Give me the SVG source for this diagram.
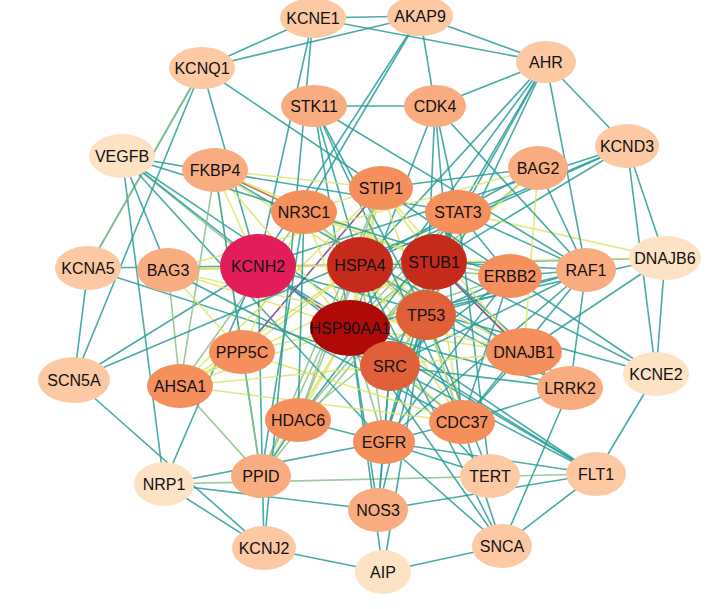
<svg xmlns="http://www.w3.org/2000/svg" width="706" height="609" viewBox="0 0 706 609">
<style>
line{stroke-width:1.6;opacity:.85}
.t{stroke:#2a9e98}.y{stroke:#dfe56a}.g{stroke:#8cc08a}.p{stroke:#7a3c8a}.b{stroke:#b07050}
text{font-family:"Liberation Sans",Arial,sans-serif;font-size:16px;text-anchor:middle;dominant-baseline:central;fill:#111}
.c1{fill:#fde2c4}.c2{fill:#fcc9a2}.c3{fill:#f9ac80}.c4{fill:#f58f5c}.c5{fill:#e0603a}.c6{fill:#c62a1a}.c7{fill:#b00a08}.c8{fill:#e21d5a}
</style>
<rect width="706" height="609" fill="#fff"/>
<g id="connectors">
<line class="t" x1="313" y1="18" x2="420" y2="16"/><line class="t" x1="313" y1="18" x2="202" y2="68"/><line class="t" x1="202" y1="68" x2="88" y2="268"/><line class="t" x1="202" y1="68" x2="74" y2="380"/><line class="t" x1="88" y1="268" x2="74" y2="380"/><line class="t" x1="264" y1="548" x2="74" y2="380"/><line class="t" x1="122" y1="156" x2="164" y2="484"/><line class="t" x1="122" y1="156" x2="596" y2="474"/><line class="g" x1="164" y1="484" x2="596" y2="474"/><line class="t" x1="627" y1="146" x2="656" y2="374"/><line class="t" x1="420" y1="16" x2="202" y2="68"/><line class="t" x1="420" y1="16" x2="435" y2="106"/><line class="t" x1="420" y1="16" x2="546" y2="62"/><line class="t" x1="313" y1="18" x2="546" y2="62"/><line class="g" x1="202" y1="68" x2="88" y2="268"/><line class="t" x1="546" y1="62" x2="627" y2="146"/><line class="t" x1="665" y1="258" x2="656" y2="374"/><line class="t" x1="627" y1="146" x2="665" y2="258"/><line class="t" x1="596" y1="474" x2="656" y2="374"/><line class="t" x1="502" y1="546" x2="596" y2="474"/><line class="t" x1="383" y1="572" x2="264" y2="548"/><line class="t" x1="164" y1="484" x2="264" y2="548"/><line class="t" x1="502" y1="546" x2="383" y2="572"/>
<!-- KCNH2 -->
<line class="t" x1="258" y1="266" x2="313" y2="18"/><line class="t" x1="258" y1="266" x2="202" y2="68"/><line class="t" x1="258" y1="266" x2="88" y2="268"/><line class="t" x1="258" y1="266" x2="74" y2="380"/><line class="t" x1="258" y1="266" x2="264" y2="548"/><line class="t" x1="258" y1="266" x2="656" y2="374"/><line class="t" x1="258" y1="266" x2="627" y2="146"/><line class="t" x1="258" y1="266" x2="420" y2="16"/><line class="g" x1="258" y1="266" x2="122" y2="156"/><line class="t" x1="258" y1="266" x2="164" y2="484"/><line class="t" x1="258" y1="266" x2="596" y2="474"/><line class="p" x1="258" y1="266" x2="350" y2="328"/><line class="p" x1="258" y1="266" x2="360" y2="265"/><line class="y" x1="258" y1="266" x2="168" y2="270"/><line class="y" x1="258" y1="266" x2="215" y2="170"/><line class="p" x1="242" y1="352" x2="381" y2="188"/>
<!-- HSP90AA1 -->
<line class="y" x1="350" y1="328" x2="360" y2="265"/><line class="y" x1="350" y1="328" x2="434" y2="262"/><line class="y" x1="350" y1="328" x2="426" y2="315"/><line class="y" x1="350" y1="328" x2="390" y2="366"/><line class="g" x1="350" y1="328" x2="384" y2="442"/><line class="y" x1="350" y1="328" x2="462" y2="422"/><line class="y" x1="350" y1="328" x2="381" y2="188"/><line class="g" x1="350" y1="328" x2="458" y2="212"/><line class="y" x1="350" y1="328" x2="304" y2="212"/><line class="y" x1="350" y1="328" x2="215" y2="170"/><line class="y" x1="350" y1="328" x2="168" y2="270"/><line class="y" x1="350" y1="328" x2="242" y2="352"/><line class="y" x1="350" y1="328" x2="180" y2="386"/><line class="y" x1="350" y1="328" x2="298" y2="420"/><line class="y" x1="350" y1="328" x2="261" y2="476"/><line class="y" x1="350" y1="328" x2="524" y2="352"/><line class="g" x1="350" y1="328" x2="510" y2="276"/><line class="t" x1="350" y1="328" x2="586" y2="270"/><line class="g" x1="350" y1="328" x2="538" y2="168"/><line class="t" x1="350" y1="328" x2="435" y2="106"/><line class="t" x1="350" y1="328" x2="314" y2="106"/><line class="t" x1="350" y1="328" x2="570" y2="388"/><line class="t" x1="350" y1="328" x2="490" y2="476"/><line class="t" x1="350" y1="328" x2="378" y2="510"/><line class="t" x1="350" y1="328" x2="383" y2="572"/><line class="t" x1="350" y1="328" x2="596" y2="474"/><line class="t" x1="350" y1="328" x2="502" y2="546"/><line class="t" x1="350" y1="328" x2="546" y2="62"/><line class="t" x1="350" y1="328" x2="665" y2="258"/>
<!-- HSPA4 -->
<line class="y" x1="360" y1="265" x2="434" y2="262"/><line class="y" x1="360" y1="265" x2="426" y2="315"/><line class="g" x1="360" y1="265" x2="390" y2="366"/><line class="g" x1="360" y1="265" x2="384" y2="442"/><line class="y" x1="360" y1="265" x2="462" y2="422"/><line class="y" x1="360" y1="265" x2="381" y2="188"/><line class="g" x1="360" y1="265" x2="458" y2="212"/><line class="y" x1="360" y1="265" x2="304" y2="212"/><line class="y" x1="360" y1="265" x2="215" y2="170"/><line class="y" x1="360" y1="265" x2="168" y2="270"/><line class="y" x1="360" y1="265" x2="242" y2="352"/><line class="y" x1="360" y1="265" x2="180" y2="386"/><line class="g" x1="360" y1="265" x2="298" y2="420"/><line class="g" x1="360" y1="265" x2="261" y2="476"/><line class="y" x1="360" y1="265" x2="524" y2="352"/><line class="g" x1="360" y1="265" x2="510" y2="276"/><line class="t" x1="360" y1="265" x2="538" y2="168"/><line class="t" x1="360" y1="265" x2="665" y2="258"/><line class="t" x1="360" y1="265" x2="570" y2="388"/><line class="t" x1="360" y1="265" x2="502" y2="546"/><line class="t" x1="360" y1="265" x2="627" y2="146"/><line class="t" x1="360" y1="265" x2="546" y2="62"/>
<!-- STUB1 -->
<line class="y" x1="434" y1="262" x2="426" y2="315"/><line class="g" x1="434" y1="262" x2="390" y2="366"/><line class="t" x1="434" y1="262" x2="384" y2="442"/><line class="y" x1="434" y1="262" x2="462" y2="422"/><line class="y" x1="434" y1="262" x2="381" y2="188"/><line class="g" x1="434" y1="262" x2="458" y2="212"/><line class="y" x1="434" y1="262" x2="304" y2="212"/><line class="y" x1="434" y1="262" x2="215" y2="170"/><line class="y" x1="434" y1="262" x2="168" y2="270"/><line class="y" x1="434" y1="262" x2="180" y2="386"/><line class="g" x1="434" y1="262" x2="298" y2="420"/><line class="g" x1="434" y1="262" x2="261" y2="476"/><line class="y" x1="434" y1="262" x2="524" y2="352"/><line class="g" x1="434" y1="262" x2="510" y2="276"/><line class="y" x1="434" y1="262" x2="538" y2="168"/><line class="t" x1="434" y1="262" x2="586" y2="270"/><line class="t" x1="434" y1="262" x2="570" y2="388"/><line class="t" x1="434" y1="262" x2="383" y2="572"/><line class="t" x1="434" y1="262" x2="656" y2="374"/><line class="t" x1="434" y1="262" x2="546" y2="62"/><line class="y" x1="434" y1="262" x2="665" y2="258"/><line class="t" x1="434" y1="262" x2="627" y2="146"/><line class="p" x1="434" y1="262" x2="524" y2="352"/>
<!-- TP53 / SRC / EGFR etc -->
<line class="g" x1="426" y1="315" x2="390" y2="366"/><line class="t" x1="426" y1="315" x2="384" y2="442"/><line class="t" x1="426" y1="315" x2="458" y2="212"/><line class="g" x1="426" y1="315" x2="304" y2="212"/><line class="t" x1="426" y1="315" x2="435" y2="106"/><line class="t" x1="426" y1="315" x2="314" y2="106"/><line class="g" x1="426" y1="315" x2="298" y2="420"/><line class="t" x1="426" y1="315" x2="510" y2="276"/><line class="t" x1="426" y1="315" x2="586" y2="270"/><line class="t" x1="426" y1="315" x2="490" y2="476"/><line class="t" x1="426" y1="315" x2="378" y2="510"/><line class="t" x1="426" y1="315" x2="570" y2="388"/><line class="t" x1="426" y1="315" x2="502" y2="546"/><line class="t" x1="426" y1="315" x2="546" y2="62"/>
<line class="t" x1="390" y1="366" x2="384" y2="442"/><line class="t" x1="390" y1="366" x2="458" y2="212"/><line class="t" x1="390" y1="366" x2="510" y2="276"/><line class="t" x1="390" y1="366" x2="596" y2="474"/><line class="t" x1="390" y1="366" x2="378" y2="510"/><line class="t" x1="390" y1="366" x2="88" y2="268"/><line class="t" x1="390" y1="366" x2="122" y2="156"/><line class="t" x1="390" y1="366" x2="586" y2="270"/><line class="t" x1="390" y1="366" x2="314" y2="106"/><line class="g" x1="390" y1="366" x2="462" y2="422"/><line class="t" x1="390" y1="366" x2="570" y2="388"/>
<line class="t" x1="384" y1="442" x2="458" y2="212"/><line class="t" x1="384" y1="442" x2="510" y2="276"/><line class="t" x1="384" y1="442" x2="596" y2="474"/><line class="t" x1="384" y1="442" x2="378" y2="510"/><line class="t" x1="384" y1="442" x2="164" y2="484"/><line class="t" x1="384" y1="442" x2="122" y2="156"/><line class="t" x1="384" y1="442" x2="586" y2="270"/><line class="t" x1="384" y1="442" x2="462" y2="422"/><line class="t" x1="384" y1="442" x2="298" y2="420"/><line class="t" x1="384" y1="442" x2="502" y2="546"/>
<line class="y" x1="462" y1="422" x2="381" y2="188"/><line class="t" x1="462" y1="422" x2="435" y2="106"/><line class="t" x1="462" y1="422" x2="510" y2="276"/><line class="t" x1="462" y1="422" x2="586" y2="270"/><line class="y" x1="462" y1="422" x2="242" y2="352"/><line class="y" x1="462" y1="422" x2="180" y2="386"/><line class="t" x1="462" y1="422" x2="524" y2="352"/><line class="t" x1="462" y1="422" x2="570" y2="388"/><line class="t" x1="462" y1="422" x2="314" y2="106"/>
<line class="y" x1="381" y1="188" x2="215" y2="170"/><line class="y" x1="381" y1="188" x2="180" y2="386"/><line class="y" x1="381" y1="188" x2="304" y2="212"/><line class="g" x1="381" y1="188" x2="298" y2="420"/><line class="t" x1="381" y1="188" x2="538" y2="168"/><line class="y" x1="381" y1="188" x2="524" y2="352"/><line class="g" x1="381" y1="188" x2="261" y2="476"/>
<line class="t" x1="458" y1="212" x2="510" y2="276"/><line class="t" x1="458" y1="212" x2="435" y2="106"/><line class="t" x1="458" y1="212" x2="586" y2="270"/><line class="t" x1="458" y1="212" x2="298" y2="420"/><line class="t" x1="458" y1="212" x2="122" y2="156"/><line class="t" x1="458" y1="212" x2="490" y2="476"/><line class="t" x1="458" y1="212" x2="546" y2="62"/><line class="y" x1="458" y1="212" x2="665" y2="258"/>
<line class="y" x1="304" y1="212" x2="215" y2="170"/><line class="y" x1="304" y1="212" x2="242" y2="352"/><line class="g" x1="304" y1="212" x2="180" y2="386"/><line class="t" x1="304" y1="212" x2="298" y2="420"/><line class="t" x1="304" y1="212" x2="261" y2="476"/><line class="t" x1="304" y1="212" x2="420" y2="16"/>
<line class="b" x1="215" y1="170" x2="304" y2="212"/><line class="y" x1="215" y1="170" x2="242" y2="352"/><line class="g" x1="215" y1="170" x2="180" y2="386"/><line class="t" x1="215" y1="170" x2="261" y2="476"/><line class="t" x1="215" y1="170" x2="524" y2="352"/>
<line class="y" x1="168" y1="270" x2="538" y2="168"/><line class="y" x1="168" y1="270" x2="524" y2="352"/><line class="y" x1="168" y1="270" x2="242" y2="352"/><line class="g" x1="168" y1="270" x2="180" y2="386"/><line class="t" x1="168" y1="270" x2="462" y2="422"/><line class="t" x1="168" y1="270" x2="122" y2="156"/>
<line class="y" x1="180" y1="386" x2="242" y2="352"/><line class="g" x1="180" y1="386" x2="261" y2="476"/><line class="y" x1="180" y1="386" x2="524" y2="352"/><line class="g" x1="242" y1="352" x2="261" y2="476"/><line class="t" x1="298" y1="420" x2="261" y2="476"/>
<line class="y" x1="538" y1="168" x2="524" y2="352"/><line class="t" x1="538" y1="168" x2="586" y2="270"/><line class="t" x1="510" y1="276" x2="586" y2="270"/><line class="t" x1="510" y1="276" x2="122" y2="156"/><line class="t" x1="586" y1="270" x2="435" y2="106"/><line class="t" x1="586" y1="270" x2="570" y2="388"/><line class="t" x1="586" y1="270" x2="546" y2="62"/><line class="t" x1="586" y1="270" x2="314" y2="106"/><line class="t" x1="524" y1="352" x2="665" y2="258"/><line class="t" x1="435" y1="106" x2="314" y2="106"/><line class="t" x1="435" y1="106" x2="546" y2="62"/><line class="t" x1="570" y1="388" x2="502" y2="546"/><line class="t" x1="490" y1="476" x2="384" y2="442"/><line class="t" x1="378" y1="510" x2="164" y2="484"/><line class="t" x1="378" y1="510" x2="596" y2="474"/><line class="t" x1="202" y1="68" x2="656" y2="374"/><line class="t" x1="313" y1="18" x2="264" y2="548"/><line class="t" x1="74" y1="380" x2="627" y2="146"/>
</g>
<g id="n-KCNE1"><ellipse class="c2" cx="313" cy="18" rx="33" ry="20"/><text x="313" y="18">KCNE1</text></g>
<g id="n-AKAP9"><ellipse class="c2" cx="420" cy="16" rx="33" ry="20"/><text x="420" y="16">AKAP9</text></g>
<g id="n-KCNQ1"><ellipse class="c2" cx="202" cy="68" rx="33" ry="21"/><text x="202" y="68">KCNQ1</text></g>
<g id="n-AHR"><ellipse class="c2" cx="546" cy="62" rx="30" ry="21"/><text x="546" y="62">AHR</text></g>
<g id="n-STK11"><ellipse class="c3" cx="314" cy="106" rx="33" ry="21"/><text x="314" y="106">STK11</text></g>
<g id="n-CDK4"><ellipse class="c3" cx="435" cy="106" rx="31" ry="21"/><text x="435" y="106">CDK4</text></g>
<g id="n-VEGFB"><ellipse class="c1" cx="122" cy="156" rx="33" ry="22"/><text x="122" y="156">VEGFB</text></g>
<g id="n-FKBP4"><ellipse class="c3" cx="215" cy="170" rx="33" ry="22"/><text x="215" y="170">FKBP4</text></g>
<g id="n-KCND3"><ellipse class="c2" cx="627" cy="146" rx="32" ry="22"/><text x="627" y="146">KCND3</text></g>
<g id="n-BAG2"><ellipse class="c3" cx="538" cy="168" rx="30" ry="22"/><text x="538" y="168">BAG2</text></g>
<g id="n-STIP1"><ellipse class="c4" cx="381" cy="188" rx="32" ry="22"/><text x="381" y="188">STIP1</text></g>
<g id="n-NR3C1"><ellipse class="c4" cx="304" cy="212" rx="33" ry="22"/><text x="304" y="212">NR3C1</text></g>
<g id="n-STAT3"><ellipse class="c4" cx="458" cy="212" rx="33" ry="22"/><text x="458" y="212">STAT3</text></g>
<g id="n-KCNA5"><ellipse class="c2" cx="88" cy="268" rx="33" ry="22"/><text x="88" y="268">KCNA5</text></g>
<g id="n-BAG3"><ellipse class="c3" cx="168" cy="270" rx="31" ry="22"/><text x="168" y="270">BAG3</text></g>
<g id="n-KCNH2"><ellipse class="c8" cx="258" cy="266" rx="38" ry="32"/><text x="258" y="266">KCNH2</text></g>
<g id="n-HSPA4"><ellipse class="c6" cx="360" cy="265" rx="33" ry="28"/><text x="360" y="265">HSPA4</text></g>
<g id="n-STUB1"><ellipse class="c6" cx="434" cy="262" rx="33" ry="28"/><text x="434" y="262">STUB1</text></g>
<g id="n-ERBB2"><ellipse class="c4" cx="510" cy="276" rx="32" ry="22"/><text x="510" y="276">ERBB2</text></g>
<g id="n-RAF1"><ellipse class="c3" cx="586" cy="270" rx="30" ry="22"/><text x="586" y="270">RAF1</text></g>
<g id="n-DNAJB6"><ellipse class="c1" cx="665" cy="258" rx="36" ry="22"/><text x="665" y="258">DNAJB6</text></g>
<g id="n-TP53"><ellipse class="c5" cx="426" cy="315" rx="30" ry="25"/><text x="426" y="315">TP53</text></g>
<g id="n-HSP90AA1"><ellipse class="c7" cx="350" cy="328" rx="40" ry="28"/><text x="350" y="328">HSP90AA1</text></g>
<g id="n-PPP5C"><ellipse class="c4" cx="242" cy="352" rx="33" ry="22"/><text x="242" y="352">PPP5C</text></g>
<g id="n-SCN5A"><ellipse class="c2" cx="74" cy="380" rx="36" ry="23"/><text x="74" y="380">SCN5A</text></g>
<g id="n-AHSA1"><ellipse class="c4" cx="180" cy="386" rx="33" ry="22"/><text x="180" y="386">AHSA1</text></g>
<g id="n-SRC"><ellipse class="c5" cx="390" cy="366" rx="30" ry="25"/><text x="390" y="366">SRC</text></g>
<g id="n-DNAJB1"><ellipse class="c4" cx="524" cy="352" rx="38" ry="24"/><text x="524" y="352">DNAJB1</text></g>
<g id="n-LRRK2"><ellipse class="c3" cx="570" cy="388" rx="33" ry="22"/><text x="570" y="388">LRRK2</text></g>
<g id="n-KCNE2"><ellipse class="c1" cx="656" cy="374" rx="33" ry="22"/><text x="656" y="374">KCNE2</text></g>
<g id="n-HDAC6"><ellipse class="c4" cx="298" cy="420" rx="33" ry="22"/><text x="298" y="420">HDAC6</text></g>
<g id="n-CDC37"><ellipse class="c4" cx="462" cy="422" rx="33" ry="22"/><text x="462" y="422">CDC37</text></g>
<g id="n-EGFR"><ellipse class="c4" cx="384" cy="442" rx="31" ry="22"/><text x="384" y="442">EGFR</text></g>
<g id="n-NRP1"><ellipse class="c1" cx="164" cy="484" rx="30" ry="22"/><text x="164" y="484">NRP1</text></g>
<g id="n-PPID"><ellipse class="c3" cx="261" cy="476" rx="30" ry="22"/><text x="261" y="476">PPID</text></g>
<g id="n-TERT"><ellipse class="c2" cx="490" cy="476" rx="30" ry="22"/><text x="490" y="476">TERT</text></g>
<g id="n-FLT1"><ellipse class="c2" cx="596" cy="474" rx="30" ry="22"/><text x="596" y="474">FLT1</text></g>
<g id="n-NOS3"><ellipse class="c3" cx="378" cy="510" rx="30" ry="22"/><text x="378" y="510">NOS3</text></g>
<g id="n-KCNJ2"><ellipse class="c2" cx="264" cy="548" rx="32" ry="22"/><text x="264" y="548">KCNJ2</text></g>
<g id="n-SNCA"><ellipse class="c2" cx="502" cy="546" rx="30" ry="22"/><text x="502" y="546">SNCA</text></g>
<g id="n-AIP"><ellipse class="c1" cx="383" cy="572" rx="28" ry="22"/><text x="383" y="572">AIP</text></g>
</svg>
